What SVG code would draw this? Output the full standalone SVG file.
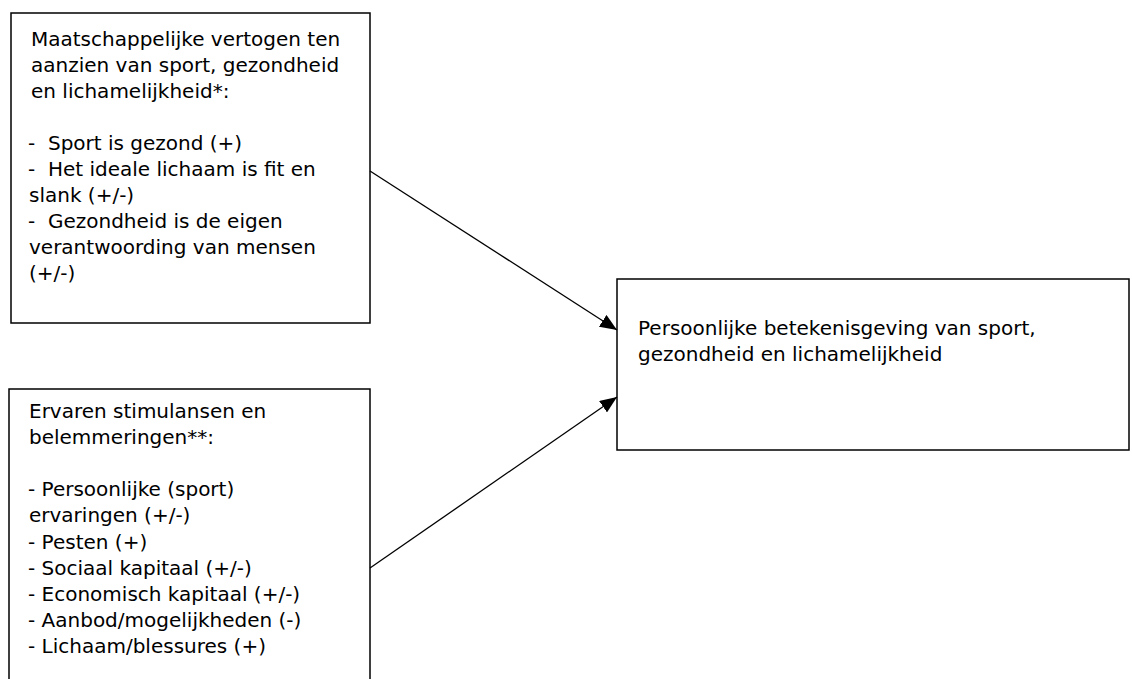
<svg xmlns="http://www.w3.org/2000/svg" width="1132" height="679" viewBox="0 0 1132 679">
  <style>
    .box { fill: #ffffff; stroke: #000000; stroke-width: 1.5; }
    .txt { font-family: "DejaVu Sans", "Verdana", sans-serif; font-size: 20px; fill: #000000; }
    .edge { stroke: #000000; stroke-width: 1.3; fill: none; }
  </style>
  <defs>
    <marker id="arrow" markerUnits="userSpaceOnUse" markerWidth="18" markerHeight="14" refX="17" refY="7" orient="auto">
      <path d="M0,0 L17,7 L0,14 Z" fill="#000000"/>
    </marker>
  </defs>
  <rect width="1132" height="679" fill="#ffffff"/>

  <g id="node-vertogen">
    <rect class="box" x="11" y="13" width="359" height="310"/>
    <text class="txt" xml:space="preserve">
      <tspan x="31" y="45.5">Maatschappelijke vertogen ten</tspan>
      <tspan x="31" y="71.6">aanzien van sport, gezondheid</tspan>
      <tspan x="31" y="97.7">en lichamelijkheid*:</tspan>
      <tspan x="28" y="149.9">-  Sport is gezond (+)</tspan>
      <tspan x="28" y="176">-  Het ideale lichaam is fit en</tspan>
      <tspan x="29" y="202.1">slank (+/-)</tspan>
      <tspan x="28" y="228.2">-  Gezondheid is de eigen</tspan>
      <tspan x="29" y="254.3">verantwoording van mensen</tspan>
      <tspan x="29" y="280.4">(+/-)</tspan>
    </text>
  </g>

  <g id="node-stimulansen">
    <rect class="box" x="9" y="389" width="361" height="310"/>
    <text class="txt" xml:space="preserve">
      <tspan x="29" y="418">Ervaren stimulansen en</tspan>
      <tspan x="29" y="444.1">belemmeringen**:</tspan>
      <tspan x="28" y="496.3">- Persoonlijke (sport)</tspan>
      <tspan x="29" y="522.4">ervaringen (+/-)</tspan>
      <tspan x="28" y="548.5">- Pesten (+)</tspan>
      <tspan x="28" y="574.6">- Sociaal kapitaal (+/-)</tspan>
      <tspan x="28" y="600.7">- Economisch kapitaal (+/-)</tspan>
      <tspan x="28" y="626.8">- Aanbod/mogelijkheden (-)</tspan>
      <tspan x="28" y="652.9">- Lichaam/blessures (+)</tspan>
    </text>
  </g>

  <g id="node-betekenisgeving">
    <rect class="box" x="617" y="279" width="512" height="171"/>
    <text class="txt">
      <tspan x="638" y="335">Persoonlijke betekenisgeving van sport,</tspan>
      <tspan x="638" y="361.1">gezondheid en lichamelijkheid</tspan>
    </text>
  </g>

  <g id="connectors">
    <line class="edge" x1="370" y1="171" x2="617" y2="330" marker-end="url(#arrow)"/>
    <line class="edge" x1="370" y1="568" x2="617" y2="397" marker-end="url(#arrow)"/>
  </g>
</svg>
